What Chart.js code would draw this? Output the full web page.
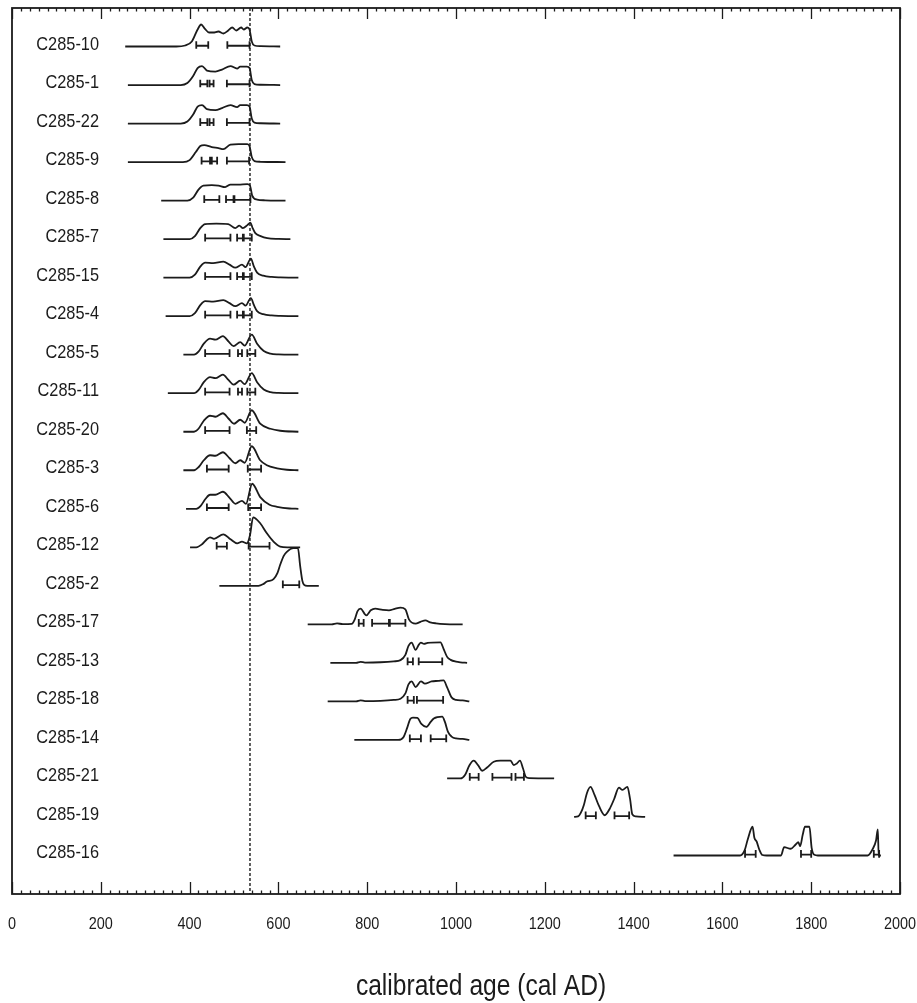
<!DOCTYPE html>
<html>
<head>
<meta charset="utf-8">
<script src="https://cdn.jsdelivr.net/npm/chart.js@4.4.1/dist/chart.umd.min.js"></script>
<style>
  body { margin: 0; background: #fff; }
  canvas { display: block; }
</style>
</head>
<body>
<canvas id="ages" width="917" height="1003"></canvas>
<script>
const FONT = "'Liberation Sans', Arial, sans-serif";
const INK = '#1b1b1b';

// sample names, top to bottom
const sampleLabels = ['C285-10', 'C285-1', 'C285-22', 'C285-9', 'C285-8', 'C285-7', 'C285-15', 'C285-4',
  'C285-5', 'C285-11', 'C285-20', 'C285-3', 'C285-6', 'C285-12', 'C285-2', 'C285-17', 'C285-13',
  'C285-18', 'C285-14', 'C285-21', 'C285-19', 'C285-16'];

// calibrated probability per sample: [year AD, relative probability]
const distributions = [
  [[255,0],[370,0],[390,1],[405,5],[418,17],[426,22],[434,18],[444,14],[453,14],[465,15],[476,13],[487,16],[496,19],[505,16],[516,19],[522,17],[530,19],[535,17],[540,5],[546,1],[560,0.3],[604,0]],
  [[261,0],[380,0],[395,2],[408,9],[418,17],[428,19],[439,14.5],[458,13.5],[473,15.5],[492,19],[507,16.5],[514,18.5],[529,18.5],[535,17],[540,5],[546,1],[560,0.3],[604,0]],
  [[261,0],[380,0],[395,2],[408,9],[418,17],[428,18.5],[439,14.5],[458,13.5],[473,15.5],[492,18.5],[507,16.5],[514,18.5],[529,18.5],[535,17],[540,5],[546,1],[560,0.3],[604,0]],
  [[261,0],[385,0],[400,2],[414,10],[424,16],[433,17],[450,15],[465,14],[476,13],[492,17.5],[510,18],[530,18],[535,16],[540,5],[546,1],[560,0.3],[616,0]],
  [[336,0],[395,0],[408,3],[420,11],[431,15],[450,15.5],[465,15],[480,13.5],[492,16],[510,16],[530,16.5],[536,15],[541,5],[552,1],[570,0.3],[616,0]],
  [[341,0],[400,0],[412,3],[424,11],[435,15],[460,15.5],[487,15],[503,11],[512,13.5],[520,11],[530,14],[537,16.5],[542,11],[548,6],[560,3],[575,1],[600,0.2],[627,0]],
  [[341,0],[400,0],[412,3],[424,11],[435,15],[453,14.5],[476,16],[490,13],[503,10],[518,13],[526,10.5],[538,19],[545,11],[552,5],[566,2],[585,0.7],[604,0.3],[645,0]],
  [[346,0],[400,0],[412,3],[424,11],[435,15],[453,14.5],[476,16],[490,13],[503,10],[518,13],[526,10.5],[538,18],[545,11],[552,5],[566,2],[585,0.7],[604,0.3],[645,0]],
  [[386,0],[410,0],[420,3],[432,11],[446,16],[458,15],[475,18.5],[488,13],[499,8.5],[514,12.5],[524,9],[540,20],[552,11],[567,3.7],[582,1],[600,0.3],[645,0]],
  [[351,0],[410,0],[420,3],[432,11],[446,16],[458,15],[475,18.5],[488,13],[499,8.5],[514,12.5],[524,9],[540,20],[552,11],[567,3.7],[582,1],[600,0.3],[645,0]],
  [[386,0],[410,0],[420,3],[432,11],[446,16],[458,15],[475,18.5],[488,13],[500,8],[514,12],[524,9],[540,21.5],[559,8],[582,3],[604,1],[645,0]],
  [[386,0],[410,0],[420,3],[432,10],[446,15],[458,14.5],[475,18],[490,12],[503,7],[514,10],[524,7.5],[540,24],[559,10],[574,5],[597,2],[619,0.5],[645,0]],
  [[392,0],[415,0],[425,3],[436,10],[446,14],[458,14],[475,17],[490,11],[503,5],[518,8],[527,5],[541,25],[559,11.7],[580,4],[597,2],[625,0.3],[645,0]],
  [[401,0],[415,0],[428,3],[439,8],[446,10],[455,8.5],[476,13],[492,8],[507,4],[518,5.7],[529,4],[536,12],[543,30],[559,24],[574,14],[589,5.7],[604,0.7],[620,0],[649,0]],
  [[467,0],[555,0],[565,1.5],[574,4.3],[589,6.7],[598,13],[604,21],[612,30],[619,34],[634,37.7],[644,37.7],[649,20],[654,5],[658,1],[665,0],[691,0]],
  [[666,0],[720,0],[732,1],[745,0.2],[765,0.5],[772,5],[778,13],[785,15.7],[798,9],[808,14],[818,15.7],[835,14.5],[849,14],[862,15.5],[875,16.7],[886,15],[894,5],[909,0.7],[920,2.5],[931,4],[942,2],[955,1],[975,0.3],[1015,0]],
  [[717,0],[775,0],[785,1],[795,0.3],[830,0.6],[860,1.5],[875,2.7],[886,8],[893,17],[900,20.3],[909,13],[916,18],[921,20.3],[928,19],[936,20],[965,20.5],[972,14],[980,6],[988,3],[1000,1.2],[1010,0.5],[1025,0]],
  [[711,0],[775,0],[785,1],[795,0.3],[830,0.6],[860,1.5],[875,2.7],[886,8],[893,17],[900,20],[909,14.3],[921,20],[930,17.7],[945,20],[960,20.5],[972,21],[980,14],[990,4],[1000,1.5],[1015,1],[1030,0]],
  [[771,0],[870,0],[882,3],[890,12],[897,21],[903,22.3],[913,22],[922,16],[933,13],[943,18],[950,21.5],[969,23.3],[975,18],[982,8],[990,3.3],[1000,1.5],[1015,1],[1030,0]],
  [[980,0],[1010,0],[1021,4],[1030,13],[1040,17.7],[1050,13],[1059,7.7],[1070,11],[1085,16.7],[1100,17.7],[1123,17.7],[1130,13.3],[1137,15],[1144,17.7],[1151,10],[1157,1.7],[1165,0.3],[1221,0]],
  [[1266,0],[1275,0.5],[1281,4],[1288,12],[1295,24],[1303,30],[1312,22],[1322,11],[1335,1.7],[1346,8],[1356,17.7],[1367,29.3],[1375,27],[1386,30],[1392,18],[1397,2.7],[1405,0.5],[1426,0]],
  [[1490,0],[1640,0],[1650,5],[1657,16],[1668,28.7],[1672,17.7],[1677,14],[1683,6],[1690,0.5],[1700,0],[1732,0],[1739,8.3],[1754,6.7],[1765,11],[1771,13.3],[1775,9.3],[1781,21],[1786,28.7],[1796,28.7],[1801,7.7],[1807,0.7],[1815,0],[1927,0],[1938,6],[1946,15],[1950,26],[1952,0],[1957,0]]
];

// highest probability ranges per sample: [from, to] cal AD
const ranges = [
  [[415,442],[485,535]],
  [[424,440],[445,454],[484,535]],
  [[424,440],[445,454],[484,535]],
  [[427,446],[450,462],[484,534]],
  [[433,467],[482,499],[501,537]],
  [[435,492],[507,520],[522,540]],
  [[435,492],[507,520],[522,540]],
  [[435,492],[507,520],[522,540]],
  [[435,490],[509,518],[530,548]],
  [[435,490],[509,518],[530,548]],
  [[435,490],[529,550]],
  [[439,488],[531,561]],
  [[439,488],[532,561]],
  [[461,484],[533,580]],
  [[610,647]],
  [[781,792],[811,849],[851,886]],
  [[891,903],[916,969]],
  [[891,905],[912,971]],
  [[896,921],[943,978]],
  [[1031,1051],[1082,1125],[1134,1153]],
  [[1292,1315],[1357,1390]],
  [[1651,1675],[1777,1800],[1941,1953]]
];

const eventYear = 536;
const xMin = 0, xMax = 2000, xStep = 200, xMinorStep = 20;

const probPerRow = 38.5;   // probability units that fill one row
const capUp = 0.12, capDown = 0.08;

// build datasets
const datasets = distributions.map((pts, row) => ({
  data: pts.map(p => ({ x: p[0], y: row - p[1] / probPerRow })),
  borderColor: INK,
  borderWidth: 1.8,
  pointRadius: 0,
  cubicInterpolationMode: 'monotone',
  fill: false
}));

const barPts = [];
ranges.forEach((list, row) => {
  const y = row - 0.02;
  list.forEach(([a, b]) => {
    barPts.push({ x: a, y: y - capUp }, { x: a, y: y + capDown }, { x: a, y: null });
    barPts.push({ x: a, y: y }, { x: b, y: y }, { x: b, y: null });
    barPts.push({ x: b, y: y - capUp }, { x: b, y: y + capDown }, { x: b, y: null });
  });
});
datasets.push({
  data: barPts,
  borderColor: INK,
  borderWidth: 1.8,
  pointRadius: 0,
  tension: 0,
  spanGaps: false,
  fill: false
});

datasets.push({
  data: [{ x: eventYear, y: -1 }, { x: eventYear, y: sampleLabels.length }],
  borderColor: INK,
  borderWidth: 1.4,
  borderDash: [3, 2],
  pointRadius: 0,
  fill: false
});

// condensed text (the original uses a narrow sans)
function narrowText(ctx, text, x, y, squeeze) {
  ctx.save();
  ctx.translate(x, y);
  ctx.scale(squeeze, 1);
  ctx.fillText(text, 0, 0);
  ctx.restore();
}

// frame, inward ticks, tick labels, sample names and axis title
const decorations = {
  id: 'decorations',
  afterDraw(chart) {
    const { ctx, chartArea: ca, scales: { x, y } } = chart;
    ctx.save();
    ctx.strokeStyle = INK;
    ctx.lineWidth = 1.8;
    ctx.strokeRect(ca.left, ca.top, ca.right - ca.left, ca.bottom - ca.top);

    ctx.lineWidth = 1.3;
    ctx.beginPath();
    for (let v = xMin; v <= xMax; v += xMinorStep) {
      const px = Math.round(x.getPixelForValue(v)) + 0.5;
      const major = v % xStep === 0;
      ctx.moveTo(px, ca.bottom);
      ctx.lineTo(px, ca.bottom - (major ? 12 : 3.5));
      ctx.moveTo(px, ca.top);
      ctx.lineTo(px, ca.top + (major ? 11 : 3.5));
    }
    ctx.stroke();

    ctx.fillStyle = INK;
    ctx.textBaseline = 'alphabetic';

    ctx.font = '17px ' + FONT;
    ctx.textAlign = 'center';
    x.ticks.forEach(t => {
      narrowText(ctx, String(t.value), x.getPixelForValue(t.value), ca.bottom + 35, 0.85);
    });

    ctx.font = '19px ' + FONT;
    ctx.textAlign = 'right';
    sampleLabels.forEach((name, i) => {
      narrowText(ctx, name, ca.left + 87, y.getPixelForValue(i) + 3, 0.86);
    });

    ctx.font = '30px ' + FONT;
    ctx.textAlign = 'center';
    narrowText(ctx, 'calibrated age (cal AD)', 481, 995, 0.82);
    ctx.restore();
  }
};

new Chart(document.getElementById('ages'), {
  type: 'line',
  data: { datasets },
  options: {
    responsive: false,
    animation: false,
    layout: { padding: { left: 12, right: 17, top: 8, bottom: 0 } },
    plugins: { legend: { display: false }, tooltip: { enabled: false } },
    scales: {
      x: {
        type: 'linear',
        min: xMin,
        max: xMax,
        grid: { display: false },
        border: { display: false },
        ticks: { stepSize: xStep, display: false },
        afterFit(scale) { scale.height = 109; }
      },
      y: {
        type: 'linear',
        min: -1,
        max: sampleLabels.length,
        reverse: true,
        display: false
      }
    }
  },
  plugins: [decorations]
});
</script>
</body>
</html>
